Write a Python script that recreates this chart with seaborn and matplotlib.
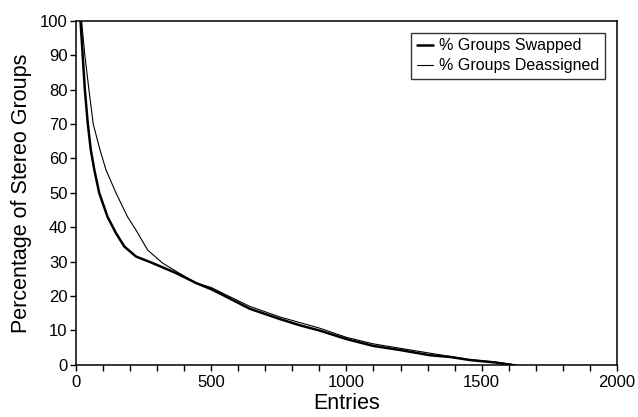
import matplotlib
matplotlib.use("Agg")
import matplotlib.pyplot as plt
from matplotlib.ticker import MultipleLocator
import pandas as pd
import seaborn as sns

# % groups swapped (thick line)
swapped_x = [17, 25, 33, 44, 55, 68, 86, 117, 148, 179, 222, 283, 370, 444, 500,
             551, 643, 755, 828, 900, 1000, 1100, 1200, 1309, 1383, 1457, 1550, 1610]
swapped_y = [100, 90, 80, 70, 62.5, 56.7, 50, 43, 38.3, 34.4, 31.5, 29.6, 26.7, 23.8, 22,
             20, 16.3, 13.3, 11.5, 10, 7.5, 5.5, 4.3, 2.8, 2.3, 1.4, 0.7, 0]

# % groups deassigned (thin line)
deassigned_x = [21, 33, 48, 64, 89, 111, 148, 191, 222, 265, 320, 381, 444, 500,
                551, 643, 755, 900, 1000, 1100, 1200, 1309, 1457, 1550, 1628]
deassigned_y = [100, 90, 80, 70, 62.5, 56.7, 50, 43, 39.2, 33.4, 29.6, 26.7, 23.8, 22.5,
                20.5, 17, 13.9, 10.7, 8, 6.1, 4.8, 3.4, 1.5, 0.8, 0]

series_names = ["% Groups Swapped", "% Groups Deassigned"]

sns.set_style("ticks")
plt.rcParams['font.family'] = ['Liberation Sans', 'DejaVu Sans']
plt.rcParams['text.color'] = 'black'
plt.rcParams['axes.labelcolor'] = 'black'
plt.rcParams['xtick.color'] = 'black'
plt.rcParams['ytick.color'] = 'black'

df_swap = pd.DataFrame({"Entries": swapped_x, "pct": swapped_y})
df_deas = pd.DataFrame({"Entries": deassigned_x, "pct": deassigned_y})

fig = plt.figure(figsize=(6.38, 4.17), dpi=100)
ax = fig.add_axes([0.119, 0.125, 0.848, 0.825])

sns.lineplot(data=df_swap, x="Entries", y="pct", ax=ax, color="black",
             linewidth=1.8, estimator=None, label=series_names[0])
sns.lineplot(data=df_deas, x="Entries", y="pct", ax=ax, color="black",
             linewidth=0.8, estimator=None, label=series_names[1])

ax.set_xlim(0, 2000)
ax.set_ylim(0, 100)
ax.xaxis.set_major_locator(MultipleLocator(500))
ax.xaxis.set_minor_locator(MultipleLocator(100))
ax.yaxis.set_major_locator(MultipleLocator(10))
ax.tick_params(axis="both", which="both", direction="out", length=4, width=1,
               color="black", labelsize=12, labelcolor="black")
ax.tick_params(axis="y", pad=2)

for s in ax.spines.values():
    s.set_visible(True)
    s.set_linewidth(1.1)
    s.set_color("black")

ax.set_xlabel("Entries", fontsize=15.5, labelpad=2, color="black")
ax.set_ylabel("Percentage of Stereo Groups", fontsize=15.5, labelpad=6, color="black")

leg = ax.legend(loc="upper right", bbox_to_anchor=(0.978, 0.965), fontsize=11.5,
                frameon=True, fancybox=False, handlelength=1.0, handletextpad=0.4,
                borderpad=0.35, labelspacing=0.3, borderaxespad=0)
leg.get_frame().set_edgecolor("black")
leg.get_frame().set_linewidth(1.0)
for t in leg.get_texts():
    t.set_color("black")

fig.savefig("out.png", dpi=100)
